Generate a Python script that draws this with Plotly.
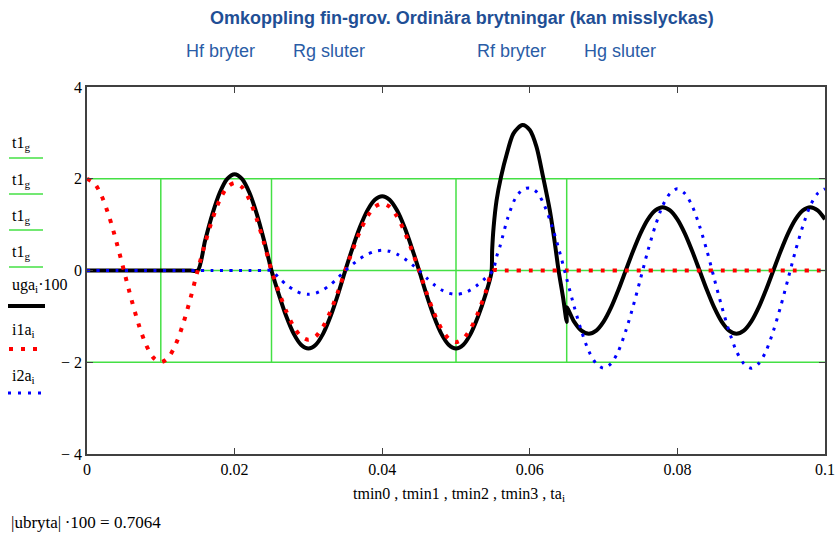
import plotly.graph_objects as go

# ---------------- data ----------------
# black: uga_i * 100
t_uga = [0.000, 0.001, 0.002, 0.003, 0.004, 0.005, 0.006, 0.007, 0.008, 0.009,
         0.010, 0.011, 0.012, 0.013, 0.014, 0.015, 0.016, 0.017, 0.018, 0.019,
         0.020, 0.021, 0.022, 0.023, 0.024, 0.025, 0.026, 0.027, 0.028, 0.029,
         0.030, 0.031, 0.032, 0.033, 0.034, 0.035, 0.036, 0.037, 0.038, 0.039,
         0.040, 0.041, 0.042, 0.043, 0.044, 0.045, 0.046, 0.047, 0.048, 0.049,
         0.050, 0.051, 0.052, 0.053, 0.054, 0.0548, 0.0549, 0.0551, 0.0555, 0.0561,
         0.0569, 0.0578, 0.0590, 0.0600, 0.0609, 0.0618, 0.0627, 0.0634, 0.0639, 0.0645,
         0.0650, 0.0650, 0.066, 0.067, 0.068, 0.069, 0.070, 0.071, 0.072, 0.073,
         0.074, 0.075, 0.076, 0.077, 0.078, 0.079, 0.080, 0.081, 0.082, 0.083,
         0.084, 0.085, 0.086, 0.087, 0.088, 0.089, 0.090, 0.091, 0.092, 0.093,
         0.094, 0.095, 0.096, 0.097, 0.098, 0.099, 0.100]
uga100 = [0, 0, 0, 0, 0, 0, 0, 0, 0, 0,
          0, 0, 0, 0, 0, 0, 0.649, 1.234, 1.699, 1.997,
          2.10, 1.997, 1.699, 1.234, 0.649, 0, -0.525, -0.999, -1.375, -1.617,
          -1.70, -1.617, -1.375, -0.999, -0.525, 0, 0.501, 0.952, 1.311, 1.541,
          1.62, 1.541, 1.311, 0.952, 0.501, 0, -0.525, -0.999, -1.375, -1.617,
          -1.70, -1.617, -1.375, -0.999, -0.525, -0.05, 0.45, 0.95, 1.53, 2.04,
          2.55, 2.99, 3.17, 3.06, 2.70, 2.04, 1.32, 0.59, 0.0, -0.58,
          -1.12, -0.80, -1.116, -1.312, -1.38, -1.312, -1.116, -0.811, -0.426, 0,
          0.426, 0.811, 1.116, 1.312, 1.38, 1.312, 1.116, 0.811, 0.426, 0,
          -0.426, -0.811, -1.116, -1.312, -1.38, -1.312, -1.116, -0.811, -0.426, 0,
          0.426, 0.811, 1.116, 1.312, 1.38, 1.312, 1.116]

# red: i1a_i
t_i1a = [round(0.001 * k, 3) for k in range(101)]
i1a = [2.0, 1.902, 1.618, 1.176, 0.618, 0, -0.618, -1.176, -1.618, -1.902,
       -2.0, -1.902, -1.618, -1.176, -0.618, 0, 0.590, 1.123, 1.545, 1.817,
       1.91, 1.817, 1.545, 1.123, 0.590, 0, -0.467, -0.888, -1.222, -1.436,
       -1.51, -1.436, -1.222, -0.888, -0.467, 0, 0.451, 0.858, 1.181, 1.389,
       1.46, 1.389, 1.181, 0.858, 0.451, 0, -0.482, -0.917, -1.262, -1.484,
       -1.56, -1.484, -1.262, -0.917, -0.482, 0, 0, 0, 0, 0,
       0, 0, 0, 0, 0, 0, 0, 0, 0, 0,
       0, 0, 0, 0, 0, 0, 0, 0, 0, 0,
       0, 0, 0, 0, 0, 0, 0, 0, 0, 0,
       0, 0, 0, 0, 0, 0, 0, 0, 0, 0, 0]

# blue: i2a_i
t_i2a = [0.000, 0.001, 0.002, 0.003, 0.004, 0.005, 0.006, 0.007, 0.008, 0.009,
         0.010, 0.011, 0.012, 0.013, 0.014, 0.015, 0.016, 0.017, 0.018, 0.019,
         0.020, 0.021, 0.022, 0.023, 0.024, 0.025, 0.026, 0.027, 0.028, 0.029,
         0.030, 0.031, 0.032, 0.033, 0.034, 0.035, 0.036, 0.037, 0.038, 0.039,
         0.040, 0.041, 0.042, 0.043, 0.044, 0.045, 0.046, 0.047, 0.048, 0.049,
         0.050, 0.051, 0.052, 0.053, 0.054, 0.055, 0.0555, 0.056, 0.057, 0.058,
         0.059, 0.060, 0.061, 0.062, 0.063, 0.064, 0.065, 0.066, 0.067, 0.068,
         0.069, 0.070, 0.071, 0.072, 0.073, 0.074, 0.075, 0.076, 0.077, 0.078,
         0.079, 0.080, 0.081, 0.082, 0.083, 0.084, 0.085, 0.086, 0.087, 0.088,
         0.089, 0.090, 0.091, 0.092, 0.093, 0.094, 0.095, 0.096, 0.097, 0.098,
         0.099, 0.100]
i2a = [0, 0, 0, 0, 0, 0, 0, 0, 0, 0,
       0, 0, 0, 0, 0, 0, 0, 0, 0, 0,
       0, 0, 0, 0, 0, 0, -0.161, -0.306, -0.421, -0.495,
       -0.52, -0.495, -0.421, -0.306, -0.161, 0, 0.136, 0.259, 0.356, 0.418,
       0.44, 0.418, 0.356, 0.259, 0.136, 0, -0.161, -0.306, -0.421, -0.495,
       -0.52, -0.495, -0.421, -0.306, -0.161, 0, 0.30, 0.55, 1.14, 1.56,
       1.76, 1.80, 1.70, 1.41, 0.97, 0.43, -0.18, -0.78, -1.32, -1.76,
       -2.03, -2.13, -2.03, -1.76, -1.32, -0.78, -0.18, 0.43, 0.97, 1.41,
       1.68, 1.78, 1.68, 1.41, 0.97, 0.43, -0.18, -0.78, -1.32, -1.76,
       -2.03, -2.13, -2.03, -1.76, -1.32, -0.78, -0.18, 0.43, 0.97, 1.41,
       1.68, 1.78]

# green guide lines: t1_g vs tmin0..tmin3
t1g_levels = [2, 0, -2]
tmin_times = [0.01, 0.025, 0.05, 0.065]
x_range = [0, 0.1]
y_range = [-4, 4]

x_tickvals = [0, 0.02, 0.04, 0.06, 0.08, 0.1]
x_ticktext = ["0", "0.02", "0.04", "0.06", "0.08", "0.1"]
y_tickvals = [-4, -2, 0, 2, 4]
y_ticktext = ["\u2212 4", "\u2212 2", "0", "2", "4"]

title_text = "Omkoppling fin-grov. Ordinära brytningar (kan misslyckas)"
event_labels = ["Hf bryter", "Rg sluter", "Rf bryter", "Hg sluter"]
legend_labels = ["t1<sub>g</sub>", "t1<sub>g</sub>", "t1<sub>g</sub>", "t1<sub>g</sub>",
                 "uga<sub>i</sub>\u00b7100", "i1a<sub>i</sub>", "i2a<sub>i</sub>"]
xlabel = "tmin0 , tmin1 , tmin2 , tmin3 , ta<sub>i</sub>"
result_text = "|ubryta|\u2009\u00b7100 = 0.7064"

# ---------------- styles ----------------
W, H = 838, 543
L, R, T, B = 87, 13, 87, 89
PW, PH = W - L - R, H - T - B
GREEN = "#44e044"
SERIF = "Liberation Serif"
SANS = "Liberation Sans"
BLUE_TXT = "#2a5ca6"


def px(xp):
    return (xp - L) / PW


def py(yp):
    return (H - B - yp) / PH


fig = go.Figure()

# green guides
gx, gy = [], []
for lv in t1g_levels:
    gx += [x_range[0], x_range[1], None]
    gy += [lv, lv, None]
for tm in tmin_times:
    gx += [tm, tm, None]
    gy += [t1g_levels[-1], t1g_levels[0], None]
fig.add_trace(go.Scatter(x=gx, y=gy, mode="lines",
                         line=dict(color=GREEN, width=1.5), hoverinfo="skip"))

fig.add_trace(go.Scatter(x=t_uga, y=uga100, mode="lines",
                         line=dict(color="black", width=4, shape="spline", smoothing=0.8)))
fig.add_trace(go.Scatter(x=t_i1a, y=i1a, mode="lines",
                         line=dict(color="#ff0000", width=4, dash="4px,8px",
                                   shape="spline", smoothing=0.8)))
fig.add_trace(go.Scatter(x=t_i2a, y=i2a, mode="lines",
                         line=dict(color="#0000ff", width=3, dash="3px,6.5px",
                                   shape="spline", smoothing=0.8)))

# ---------- annotations ----------
ann = []
ann.append(dict(text="<b>" + title_text + "</b>", x=px(462), y=py(18),
                font=dict(family=SANS, size=18, color="#1f4f95")))
for lab, cx in zip(event_labels, [220, 329, 511, 620]):
    ann.append(dict(text=lab, x=px(cx), y=py(51),
                    font=dict(family=SANS, size=18, color=BLUE_TXT)))
ann.append(dict(text=xlabel, x=px(459), y=py(494),
                font=dict(family=SERIF, size=16, color="black")))
ann.append(dict(text=result_text, x=px(9), y=py(522), xanchor="left",
                font=dict(family=SERIF, size=17, color="black")))
for lab, cy in zip(legend_labels, [143, 180, 216, 252, 285, 330, 376]):
    ann.append(dict(text=lab, x=px(10), y=py(cy), xanchor="left",
                    font=dict(family=SERIF, size=16, color="black")))
for a in ann:
    a.setdefault("xanchor", "center")
    a.update(xref="paper", yref="paper", yanchor="middle", showarrow=False)

# legend samples
shapes = []
for cy in [158, 194, 230, 267]:
    shapes.append(dict(type="line", x0=px(9), x1=px(43), y0=py(cy), y1=py(cy),
                       line=dict(color=GREEN, width=1.5)))
shapes.append(dict(type="line", x0=px(8), x1=px(45), y0=py(306), y1=py(306),
                   line=dict(color="black", width=4)))
shapes.append(dict(type="line", x0=px(9), x1=px(38), y0=py(349), y1=py(349),
                   line=dict(color="#ff0000", width=4, dash="4px,8px")))
shapes.append(dict(type="line", x0=px(8), x1=px(42), y0=py(393), y1=py(393),
                   line=dict(color="#0000ff", width=3, dash="3px,7px")))
for s in shapes:
    s.update(xref="paper", yref="paper")

axis_common = dict(showgrid=False, zeroline=False, showline=True, mirror="ticks",
                   linecolor="#404040", linewidth=1.5, ticks="inside", ticklen=6,
                   tickcolor="#404040", automargin=False,
                   tickfont=dict(family=SERIF, size=16, color="black"))

fig.update_layout(
    width=W, height=H, margin=dict(l=L, r=R, t=T, b=B, autoexpand=False),
    paper_bgcolor="white", plot_bgcolor="white", showlegend=False,
    xaxis=dict(range=x_range, tickvals=x_tickvals, ticktext=x_ticktext, **axis_common),
    yaxis=dict(range=y_range, tickvals=y_tickvals, ticktext=y_ticktext, **axis_common),
    annotations=ann, shapes=shapes,
)

fig.write_html("out.html")
